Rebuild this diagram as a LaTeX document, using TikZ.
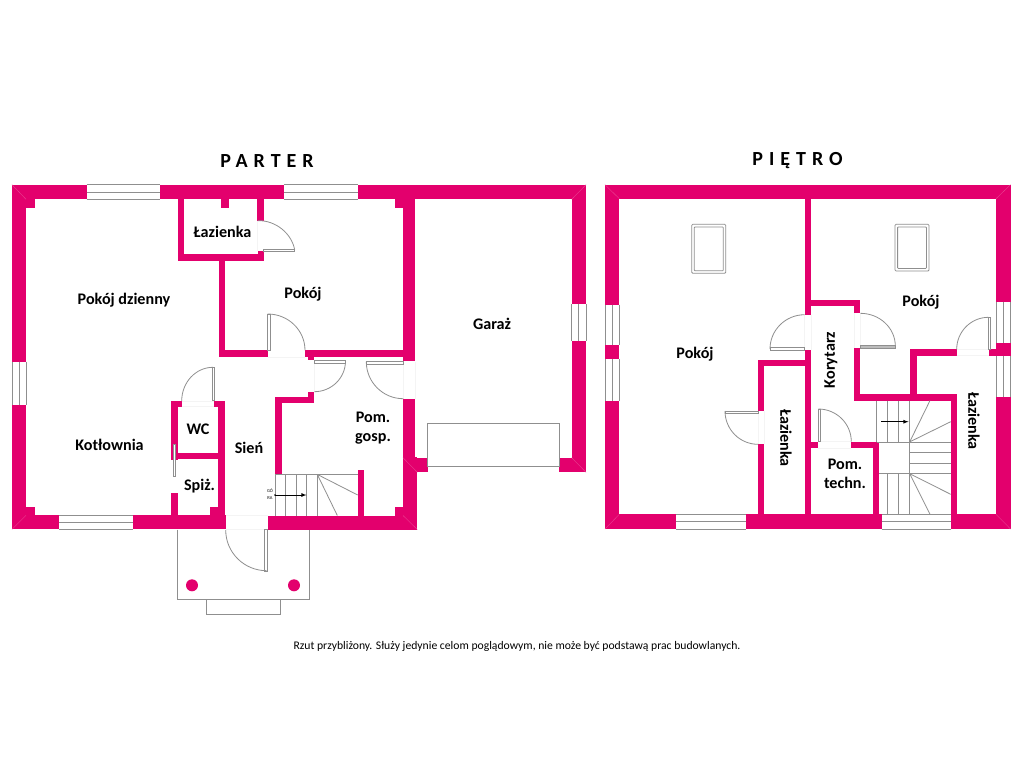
\documentclass[tikz,border=0pt]{standalone}
\usepackage{fontspec}
\setmainfont{Carlito}
\definecolor{wallc}{HTML}{E3006D}
\definecolor{linec}{HTML}{8F8F8F}
\definecolor{openc}{HTML}{F4F4F4}
\newcommand{\wl}[4]{\fill[wallc] (#1,#2) rectangle (#3,#4);}
\newcommand{\qarc}[6]{%
  \pgfmathsetmacro\qax{#3+0.5523*(#5-#1)}%
  \pgfmathsetmacro\qay{#4+0.5523*(#6-#2)}%
  \pgfmathsetmacro\qbx{#5+0.5523*(#3-#1)}%
  \pgfmathsetmacro\qby{#6+0.5523*(#4-#2)}%
  \draw[gl] (#3,#4) .. controls (\qax,\qay) and (\qbx,\qby) .. (#5,#6);}
\newcommand{\hwin}[4]{% x1 x2 y1 y2
  \fill[white] (#1,#3) rectangle (#2,#4);
  \draw[gl] (#1,#3) -- (#2,#3) (#1,{(#3+#4)/2}) -- (#2,{(#3+#4)/2}) (#1,#4) -- (#2,#4);}
\newcommand{\vwin}[4]{% x1 x2 y1 y2
  \fill[white] (#1,#3) rectangle (#2,#4);
  \draw[gl] (#1,#3) -- (#1,#4) ({(#1+#2)/2},#3) -- ({(#1+#2)/2},#4) (#2,#3) -- (#2,#4);}
\tikzset{
  x=0.75pt,y=-0.75pt,
  gl/.style={draw=linec,line width=0.6pt},
  op/.style={draw=openc,line width=0.5pt},
  seam/.style={draw=wallc!75!white,line width=0.3pt},
  room/.style={font=\bfseries\fontsize{12.1pt}{14.4pt}\selectfont,align=center,text=black,inner sep=0pt},
  heading/.style={font=\bfseries\fontsize{15pt}{17pt}\selectfont\addfontfeature{LetterSpace=30},inner sep=0pt,text=black},
  note/.style={font=\fontsize{8.75pt}{10pt}\selectfont,inner sep=0pt,text=black},
  tiny/.style={font=\fontsize{3.4pt}{4pt}\selectfont,inner sep=0pt,align=center,text=black},
  dot/.style={circle,fill=wallc,minimum size=9pt,inner sep=0pt}
}
\begin{document}
\begin{tikzpicture}
\useasboundingbox (0,0) rectangle (1024,768);
\fill[white] (0,0) rectangle (1024,768);

%%%%% PARTER walls
\wl{12}{184.7}{586}{199.3}
\wl{12}{184.7}{26}{529.3}
\wl{26}{199.3}{35}{207.7}
\wl{26}{506.7}{35}{515.3}
\wl{12}{515.3}{226}{529.3}
\wl{267.7}{515.5}{417.3}{529.5}
% lazienka
\wl{177.7}{199}{184.3}{261}
\wl{177.7}{254.3}{264}{261}
\wl{257}{199}{264}{220.7}
\wl{257.5}{251}{264}{261}
\wl{220.7}{199}{229.3}{207.7}
% pokoj
\wl{218.7}{261}{225.3}{357}
\wl{218.7}{350.3}{268.3}{357}
\wl{305}{350.3}{415.3}{357}
\wl{308}{357}{314.3}{360}
\wl{403}{199}{415.3}{361.3}
\wl{395}{199}{403}{207.7}
% garage
\wl{571.7}{184.7}{586}{472.3}
\wl{559}{457.7}{586}{472.3}
\wl{403}{398.7}{415.3}{472}
\wl{403}{457.7}{428}{472.3}
\wl{403}{457}{417.3}{529.5}
\wl{395}{507}{403}{516}
% pom gosp
\wl{275}{396.7}{281.7}{474.3}
\wl{275}{396.7}{314.3}{402.7}
\wl{308}{391.7}{314.3}{397}
\wl{357.7}{470}{364}{516}
% WC / spiz
\wl{171.3}{400.7}{177.7}{460}
\wl{171.3}{400.7}{181.7}{406.7}
\wl{214.3}{400.7}{224.7}{406.7}
\wl{218}{400.7}{224.7}{516}
\wl{177.7}{453.3}{218}{459.3}
\wl{171.3}{493.3}{177.7}{516}
\wl{210}{506.7}{218}{516}

% wall corner seams
\draw[seam] (12,184.7) -- (26,199.3) (586,184.7) -- (571.7,199.3) (12,529.3) -- (26,515.3)
  (417.3,529.5) -- (403,515.5) (403,457.7) -- (417.3,472.3) (586,472.3) -- (571.7,457.7);

% windows
\hwin{86.7}{160}{184.7}{199.3}
\hwin{284.3}{358}{184.7}{199.3}
\hwin{59.3}{133.3}{515.3}{529.3}
\vwin{12}{26}{361.7}{404.7}
\vwin{571.7}{586}{304.3}{341}

% openings
\draw[op] (268.3,357) -- (305,357);
\draw[op] (314.3,361) -- (314.3,391.7);
\draw[op] (403.3,361.5) -- (403.3,398.7) (415.3,361.5) -- (415.3,398.7);
\draw[op] (226,515.5) -- (267.7,515.5) (226,529.5) -- (267.7,529.5);
\draw[op] (181.7,401) -- (214.3,401) (181.7,406.7) -- (214.3,406.7);
\draw[op] (257.5,220.7) -- (257.5,251);

% doors
\draw[gl,fill=white] (263.3,249) rectangle (294.7,251.5);
\qarc{263.3}{251}{258}{220.7}{294.7}{250}
\draw[gl,fill=white] (267.7,314) rectangle (270,350.3);
\qarc{267.7}{350.3}{267.7}{314}{305}{350.3}
\draw[gl,fill=white] (212.3,367.3) rectangle (214.3,400.7);
\qarc{213}{401}{213}{367.3}{181.7}{401}
\draw[gl,fill=white] (314.3,360.7) rectangle (345,363);
\qarc{314.3}{361}{345.5}{361}{314.3}{391.7}
\draw[gl,fill=white] (366.3,361.7) rectangle (403.3,364);
\qarc{403.3}{361.7}{366.3}{361.7}{403.3}{398.7}
\draw[gl,fill=white] (173,444.3) rectangle (175.3,476.7);

% porch
\draw[gl] (177.3,529.5) -- (177.3,599.3) -- (309,599.3) -- (309,529.5);
\draw[gl] (206,599.3) -- (206,614) -- (280,614) -- (280,599.3);
\node[dot] (pillarA) at (192,585.3) {};
\node[dot] (pillarB) at (294,585.3) {};
\draw[gl,fill=white] (264.7,529.5) rectangle (267.3,571);
\qarc{266.7}{530}{225.7}{530}{266.7}{570.7}

% garage door
\draw[gl,fill=white] (427.7,423) rectangle (559.3,466.3);

% stairs parter
\draw[gl] (275,474.4) -- (357.7,474.4);
\foreach \sx in {275,285.7,296,306.7,317.3} \draw[gl] (\sx,474.4) -- (\sx,515.5);
\draw[gl] (317.3,474.4) -- (357.7,495) (317.3,474.4) -- (337.3,515.5);
\draw[line width=0.35pt,-latex] (275,495) -- (306.5,495);
\fill (275,495) circle[radius=0.7pt];
\node[tiny] (upA) at (270,491) {GÓ};
\node[tiny] (upB) at (270,498) {RA};

%%%%% PIETRO walls
\wl{605}{184.7}{1010.5}{198.7}
\wl{605}{184.7}{619.3}{529}
\wl{605}{514.3}{1010.5}{529}
\wl{996}{184.7}{1010.5}{529}
% central
\wl{804.7}{198.7}{811.3}{314.7}
\wl{804.7}{349.5}{811.3}{515}
\wl{805}{300}{860.3}{306}
\wl{854.3}{300}{860.3}{313.3}
\wl{854.3}{348}{860.3}{400}
\wl{854.3}{394.3}{956.7}{400.5}
\wl{950.7}{394.3}{956.7}{515}
\wl{910.3}{349.3}{916.7}{396}
\wl{910.3}{349.3}{956.7}{355.7}
\wl{989.3}{349.3}{1000}{356}
% lazienka pietro
\wl{758}{360}{805}{366}
\wl{758}{360}{764.3}{411}
\wl{758}{444.3}{764.3}{515}
% pom techn
\wl{805}{441.7}{818.3}{448.3}
\wl{851}{441.7}{879}{448.3}
\wl{872.7}{441.7}{879}{515}

\draw[seam] (605,184.7) -- (619.3,198.7) (1010.5,184.7) -- (996,198.7)
  (605,529) -- (619.3,514.3) (1010.5,529) -- (996,514.3);

% windows
\hwin{676}{745.7}{514.3}{529}
\hwin{881.7}{951}{514.3}{529}
\vwin{605}{619.3}{304.7}{345.3}
\vwin{605}{619.3}{359.3}{400.7}
\vwin{996}{1010.5}{302.3}{342.7}
\vwin{996}{1010.5}{356}{397}

% skylights
\draw[gl,rounded corners=0.8pt] (691.7,224.3) rectangle (725.7,273.3);
\draw[gl,rounded corners=0.5pt] (694.3,227) rectangle (723.3,270.7);
\draw[gl,rounded corners=0.8pt] (895,224.3) rectangle (929,271);
\draw[gl,rounded corners=0.5pt] (897.6,227) rectangle (926.4,268.4);

% openings
\draw[op] (804.7,314.7) -- (804.7,349.5) (811.3,314.7) -- (811.3,349.5);
\draw[op] (854.3,313.3) -- (854.3,348) (860.3,313.3) -- (860.3,346);
\draw[op] (758,411) -- (758,444.3) (764.3,411) -- (764.3,444.3);
\draw[op] (818.3,441.7) -- (851,441.7) (818.3,448.3) -- (851,448.3);
\draw[op] (956.7,349.3) -- (989.3,349.3) (956.7,355.7) -- (989.3,355.7);

% doors
\draw[gl,fill=white] (770,347.3) rectangle (804.7,350);
\qarc{804.7}{349}{804.7}{314.7}{770}{349}
\draw[gl,fill=linec!60] (860.3,345.7) rectangle (895.3,348.3);
\qarc{860.3}{346}{860.3}{313.3}{895.3}{346}
\draw[gl,fill=white] (725,411) rectangle (758,413);
\qarc{758}{411}{725}{411}{758}{444.3}
\draw[gl,fill=white] (818.3,409) rectangle (820.7,441.7);
\qarc{818.3}{441.7}{818.3}{409}{851.3}{441.7}
\draw[gl,fill=white] (988,317.3) rectangle (990.7,349.3);
\qarc{988.5}{349.3}{988.5}{317.3}{956.7}{349.3}

% stairs pietro
\foreach \sx in {876.7,887.7,898.7,909.7} \draw[gl] (\sx,400.5) -- (\sx,441.9);
\draw[gl] (876.7,441.9) -- (950.7,441.9);
\draw[gl] (909.7,441.9) -- (930,400.5) (909.7,441.9) -- (950.7,421.7);
\draw[gl] (909.7,441.9) -- (909.7,514.3);
\foreach \sy in {452.3,463.3,473.7} \draw[gl] (909.7,\sy) -- (950.7,\sy);
\draw[gl] (879,473.7) -- (950.7,473.7);
\foreach \sx in {887.7,898.7} \draw[gl] (\sx,473.7) -- (\sx,514.3);
\draw[gl] (909.7,473.7) -- (950.7,494.3) (909.7,473.7) -- (930,514.3);
\draw[line width=0.35pt,-latex] (881,421.7) -- (908.5,421.7);

%%%%% labels
\node[heading] (parter) at (267,161) {PARTER};
\node[heading] (pietro) at (797.5,160.5) {PIĘTRO};
\node[room] (r1) at (124,300) {Pokój dzienny};
\node[room] (r2) at (222.5,232) {Łazienka};
\node[room] (r3) at (303,294) {Pokój};
\node[room] (r4) at (492,324) {Garaż};
\node[room] (r5) at (109.5,445) {Kotłownia};
\node[room] (r6) at (198,429) {WC};
\node[room] (r7) at (249,447.5) {Sień};
\node[room] (r8) at (199.5,486) {Spiż.};
\node[room] (r9) at (373,428.5) {Pom.\\gosp.};
\node[room] (r10) at (695,354.5) {Pokój};
\node[room] (r11) at (921,302.5) {Pokój};
\node[room,rotate=90] (r12) at (831,360) {Korytarz};
\node[room,rotate=-90] (r13) at (786,438) {Łazienka};
\node[room] (r14) at (845,473.5) {Pom.\\techn.};
\node[room,rotate=-90] (r15) at (974,421) {Łazienka};
\node[note] (foot) at (517,646) {Rzut przybliżony. Służy jedynie celom poglądowym, nie może być podstawą prac budowlanych.};
\end{tikzpicture}
\end{document}
